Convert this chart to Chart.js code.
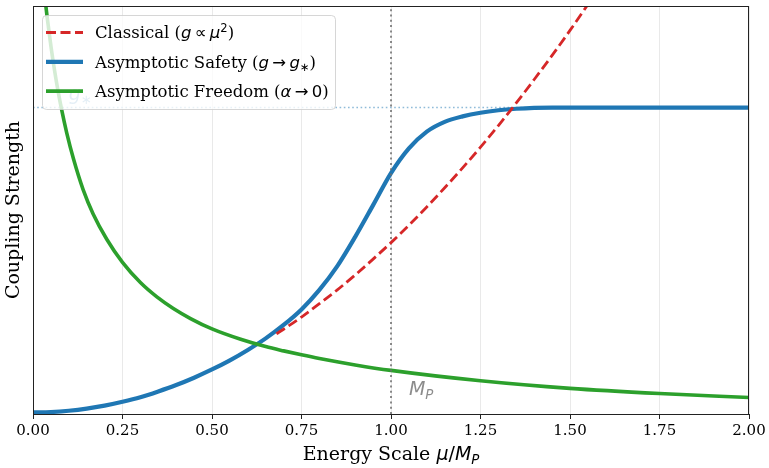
<!DOCTYPE html>
<html>
<head>
<meta charset="utf-8">
<title>Coupling Strength vs Energy Scale</title>
<script src="https://cdn.jsdelivr.net/npm/chart.js@4.4.1/dist/chart.umd.min.js"></script>
<style>
    html, body { margin: 0; padding: 0; background: #fff; }
    #wadah { width: 769px; height: 468px; }
</style>
</head>
<body>
<div id="wadah"><canvas id="chartKopling" width="769" height="468"></canvas></div>
<script>
// energy grid (mu / M_P) for the asymptotic safety curve
const energyScale = [0.00, 0.05, 0.10, 0.15, 0.20, 0.25, 0.30, 0.35, 0.40, 0.45,
                     0.50, 0.55, 0.60, 0.65, 0.70, 0.75, 0.80, 0.85, 0.90, 0.95,
                     1.00, 1.05, 1.10, 1.15, 1.20, 1.25, 1.30, 1.35, 1.40, 1.45,
                     1.50, 1.55, 1.60, 1.65, 1.70, 1.75, 1.80, 1.85, 1.90, 1.95, 2.00];
const safetyCoupling = [0.000, 0.0014, 0.0056, 0.0125, 0.0223, 0.035, 0.050, 0.069, 0.090, 0.114,
                        0.141, 0.171, 0.205, 0.243, 0.287, 0.338, 0.402, 0.480, 0.576, 0.680,
                        0.785, 0.866, 0.921, 0.953, 0.971, 0.983, 0.991, 0.996, 0.999, 1.000,
                        1.000, 1.000, 1.000, 1.000, 1.000, 1.000, 1.000, 1.000, 1.000, 1.000, 1.000];

// classical curve (only visible part, the rest sits under the blue line)
const classicalScale = [0.68, 0.70, 0.75, 0.80, 0.85, 0.90, 0.95, 1.00, 1.05, 1.10,
                        1.15, 1.20, 1.25, 1.30, 1.35, 1.40, 1.45, 1.50, 1.55, 1.60];
const classicalCoupling = [0.258, 0.273, 0.313, 0.357, 0.402, 0.451, 0.503, 0.557, 0.614, 0.674,
                           0.737, 0.802, 0.870, 0.941, 1.015, 1.092, 1.171, 1.253, 1.338, 1.426];

// asymptotic freedom
const freedomScale = [0.03, 0.035, 0.04, 0.05, 0.06, 0.07, 0.08, 0.094, 0.113, 0.14,
                      0.168, 0.206, 0.25, 0.30, 0.346, 0.392, 0.44, 0.50, 0.58, 0.65,
                      0.70, 0.75, 0.80, 0.90, 1.00, 1.25, 1.50, 1.75, 2.00];
const freedomCoupling = [1.397, 1.342, 1.292, 1.202, 1.123, 1.054, 0.993, 0.918, 0.832, 0.731,
                         0.651, 0.568, 0.492, 0.426, 0.379, 0.341, 0.308, 0.274, 0.240, 0.216,
                         0.202, 0.189, 0.177, 0.156, 0.138, 0.104, 0.079, 0.062, 0.049];

const seriesNames = ['Classical (g ∝ μ²)', 'Asymptotic Safety (g → g*)', 'Asymptotic Freedom (α → 0)'];
const xTickLabels = ['0.00', '0.25', '0.50', '0.75', '1.00', '1.25', '1.50', '1.75', '2.00'];

const fixedPoint = 1.0;     // g*
const planckScale = 1.0;    // M_P
const energyMin = 0, energyMax = 2;
const couplingMin = -0.005, couplingMax = 1.333;

const warna = { merah: '#d62728', biru: '#1f77b4', hijau: '#2ca02c' };

Chart.defaults.font.family = '"DejaVu Serif", serif';
Chart.defaults.color = '#000';

function keTitik(xs, ys) {
    return xs.map((x, i) => ({ x: x, y: ys[i] }));
}

// draw text made of pieces in different fonts (mathtext imitation)
function tulisRich(ctx, parts, x, y, size, align) {
    const fonts = {
        rm: size + 'px "DejaVu Serif"',
        it: 'italic ' + size + 'px "DejaVu Sans"',
        sym: size + 'px "DejaVu Sans"',
        sup: (size * 0.7) + 'px "DejaVu Sans"',
        sub: (size * 0.7) + 'px "DejaVu Sans"',
        subit: 'italic ' + (size * 0.7) + 'px "DejaVu Sans"'
    };
    const geser = { sup: -0.38 * size, sub: 0.22 * size, subit: 0.22 * size };
    let total = 0;
    parts.forEach(p => { ctx.font = fonts[p[1]]; total += ctx.measureText(p[0]).width; });
    let cx = align === 'center' ? x - total / 2 : x;
    ctx.textAlign = 'left';
    ctx.textBaseline = 'alphabetic';
    parts.forEach(p => {
        ctx.font = fonts[p[1]];
        ctx.fillText(p[0], cx, y + (geser[p[1]] || 0));
        cx += ctx.measureText(p[0]).width;
    });
}

const legendParts = [
    [['Classical (', 'rm'], ['g', 'it'], ['\u2009\u221d\u2009', 'sym'], ['\u03bc', 'it'], ['2', 'sup'], [')', 'rm']],
    [['Asymptotic Safety (', 'rm'], ['g', 'it'], ['\u2009\u2192\u2009', 'sym'], ['g', 'it'], ['\u2217', 'sub'], [')', 'rm']],
    [['Asymptotic Freedom (', 'rm'], ['\u03b1', 'it'], ['\u2009\u2192\u2009', 'sym'], ['0', 'sym'], [')', 'rm']]
];
const legendStyle = [
    { color: warna.merah, width: 2.8, dash: [10, 4.5] },
    { color: warna.biru, width: 4.2, dash: [] },
    { color: warna.hijau, width: 3.6, dash: [] }
];

const pluginHiasan = {
    id: 'hiasan',
    afterDatasetsDraw(chart) {
        const ctx = chart.ctx;
        const sx = chart.scales.x, sy = chart.scales.y;
        ctx.save();
        // g* label
        ctx.fillStyle = 'rgba(31,119,180,0.6)';
        tulisRich(ctx, [['g', 'it'], ['\u2217', 'sub']], sx.getPixelForValue(0.1), sy.getPixelForValue(fixedPoint + 0.025), 19, 'left');
        // M_P label
        ctx.fillStyle = 'rgba(128,128,128,0.9)';
        tulisRich(ctx, [['M', 'it'], ['P', 'subit']], sx.getPixelForValue(planckScale + 0.05), sy.getPixelForValue(0.058), 19, 'left');
        ctx.restore();
    },
    afterDraw(chart) {
        const ctx = chart.ctx;
        const a = chart.chartArea;
        ctx.save();
        // frame
        ctx.strokeStyle = '#222';
        ctx.lineWidth = 1;
        ctx.strokeRect(a.left + 0.5, a.top + 0.5, a.right - a.left - 1, a.bottom - a.top);
        // x title
        ctx.fillStyle = '#000';
        tulisRich(ctx, [['Energy Scale ', 'rm'], ['\u03bc', 'it'], ['/', 'sym'], ['M', 'it'], ['P', 'subit']],
            (a.left + a.right) / 2, 460, 19, 'center');
        // legend
        const lx = 42, ly = 15, lw = 293, lh = 94;
        ctx.beginPath();
        ctx.roundRect(lx + 0.5, ly + 0.5, lw, lh, 4);
        ctx.fillStyle = 'rgba(255,255,255,0.8)';
        ctx.fill();
        ctx.strokeStyle = 'rgba(204,204,204,0.8)';
        ctx.lineWidth = 1;
        ctx.stroke();
        legendParts.forEach((parts, i) => {
            const base = 38.3 + i * 29.3;
            const st = legendStyle[i];
            ctx.beginPath();
            ctx.setLineDash(st.dash);
            ctx.strokeStyle = st.color;
            ctx.lineWidth = st.width;
            ctx.moveTo(46, base - 5.8);
            ctx.lineTo(83, base - 5.8);
            ctx.stroke();
            ctx.setLineDash([]);
            ctx.fillStyle = '#000';
            tulisRich(ctx, parts, 95, base, 16.5, 'left');
        });
        ctx.restore();
    }
};

const ctx = document.getElementById('chartKopling').getContext('2d');
const chartKopling = new Chart(ctx, {
    type: 'line',
    data: {
        datasets: [
            {
                label: seriesNames[0],
                data: keTitik(classicalScale, classicalCoupling),
                borderColor: warna.merah, borderWidth: 2.8, borderDash: [10, 4.5],
                pointRadius: 0, tension: 0.4, cubicInterpolationMode: 'monotone', clip: 0, order: 0
            },
            {
                label: 'M_P',
                data: [{ x: planckScale, y: couplingMin }, { x: planckScale, y: couplingMax }],
                borderColor: 'rgba(110,110,110,0.8)', borderWidth: 2, borderDash: [2, 3.3],
                pointRadius: 0, clip: 0, order: 1
            },
            {
                label: seriesNames[2],
                data: keTitik(freedomScale, freedomCoupling),
                borderColor: warna.hijau, borderWidth: 3.6,
                pointRadius: 0, tension: 0.4, cubicInterpolationMode: 'monotone', clip: 0, order: 2
            },
            {
                label: seriesNames[1],
                data: keTitik(energyScale, safetyCoupling),
                borderColor: warna.biru, borderWidth: 4.2,
                pointRadius: 0, tension: 0.4, cubicInterpolationMode: 'monotone', clip: 0, order: 3
            },
            {
                label: 'g*',
                data: [{ x: energyMin, y: fixedPoint }, { x: energyMax, y: fixedPoint }],
                borderColor: 'rgba(31,119,180,0.5)', borderWidth: 1.6, borderDash: [1.6, 2.6],
                pointRadius: 0, clip: 0, order: 4
            }
        ]
    },
    options: {
        responsive: false,
        animation: false,
        layout: { padding: { top: 6, right: 20, left: 0, bottom: 0 } },
        plugins: { legend: { display: false }, tooltip: { enabled: false } },
        scales: {
            x: {
                type: 'linear', min: energyMin, max: energyMax,
                grid: { color: 'rgba(176,176,176,0.35)', lineWidth: 0.8, tickColor: '#222', tickLength: 5, tickWidth: 1 },
                border: { display: false },
                ticks: {
                    stepSize: 0.25, padding: 3, color: '#000', font: { size: 15 },
                    maxRotation: 0, autoSkip: false,
                    callback: (v, i) => xTickLabels[i]
                },
                afterFit: s => { s.height = 54; s.paddingLeft = 0; s.paddingRight = 0; }
            },
            y: {
                min: couplingMin, max: couplingMax,
                grid: { display: false },
                border: { display: false },
                ticks: { display: false },
                title: { display: true, text: 'Coupling Strength', color: '#000', font: { size: 19 }, padding: { top: 3, bottom: 0 } },
                afterFit: s => { s.width = 33; s.paddingTop = 0; s.paddingBottom = 0; }
            }
        }
    },
    plugins: [pluginHiasan]
});
</script>
</body>
</html>
